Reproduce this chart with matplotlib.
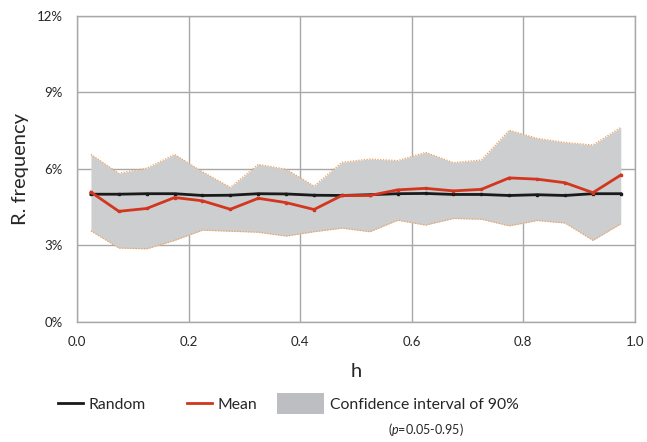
#!/usr/bin/env python3.12
"""Relative frequency per h bin: random baseline, mean and 90% confidence band."""

import matplotlib
matplotlib.use("Agg")
import matplotlib.pyplot as plt
from matplotlib.lines import Line2D
from matplotlib.patches import Patch, Rectangle
from matplotlib.legend_handler import HandlerPatch
from matplotlib.ticker import FuncFormatter

# =========================
# DATA (values in %)
# =========================
H = [0.025, 0.075, 0.125, 0.175, 0.225, 0.275, 0.325, 0.375, 0.425, 0.475,
     0.525, 0.575, 0.625, 0.675, 0.725, 0.775, 0.825, 0.875, 0.925, 0.975]

RANDOM = [5.01, 5.01, 5.03, 5.03, 4.96, 4.97, 5.03, 5.02, 4.97, 4.96,
          4.99, 5.03, 5.04, 5.00, 5.00, 4.96, 4.99, 4.96, 5.03, 5.03]

MEAN = [5.09, 4.34, 4.45, 4.88, 4.75, 4.42, 4.85, 4.68, 4.41, 4.96,
        4.96, 5.18, 5.24, 5.14, 5.20, 5.65, 5.60, 5.46, 5.07, 5.76]

CI_UPPER = [6.57, 5.83, 6.03, 6.57, 5.89, 5.28, 6.18, 5.99, 5.33, 6.26,
            6.39, 6.33, 6.65, 6.25, 6.35, 7.52, 7.20, 7.04, 6.94, 7.63]

CI_LOWER = [3.57, 2.90, 2.87, 3.20, 3.60, 3.56, 3.52, 3.37, 3.54, 3.68,
            3.54, 3.99, 3.80, 4.06, 4.03, 3.77, 3.98, 3.88, 3.20, 3.85]

X_TICKS = [0.0, 0.2, 0.4, 0.6, 0.8, 1.0]
Y_TICKS = [0, 3, 6, 9, 12]

# =========================
# STYLE
# =========================
FONT = ["Lato", "DejaVu Sans"]
GRID_COLOR = "#a8a8a8"
FILL_COLOR = "#cdcecf"
EDGE_COLOR = "#f2a25c"
RED = "#d2361f"
BLACK = "#1a1a1a"
TEXT_COLOR = "#262626"

plt.rcParams["font.family"] = FONT
plt.rcParams["mathtext.fontset"] = "custom"
plt.rcParams["mathtext.it"] = "Lato:italic"
plt.rcParams["mathtext.rm"] = "Lato"


class WidePatchHandler(HandlerPatch):
    # grey swatch is wider and taller than the line handles, growing to the left
    def create_artists(self, legend, orig_handle, xdescent, ydescent,
                       width, height, fontsize, trans):
        extra = 0.85 * width
        p = Rectangle((-xdescent - extra, -ydescent - 0.45 * height),
                      width + extra, height * 1.9,
                      facecolor=orig_handle.get_facecolor(),
                      edgecolor="none", transform=trans)
        return [p]


def main() -> None:
    fig = plt.figure(figsize=(6.47, 4.42), dpi=100)
    ax = fig.add_axes([0.119, 0.2715, 0.862, 0.6925])

    ax.fill_between(H, CI_LOWER, CI_UPPER, color=FILL_COLOR, linewidth=0, zorder=2)
    ax.plot(H, CI_UPPER, color=EDGE_COLOR, linestyle=(0, (1, 1.2)), linewidth=0.9, zorder=3)
    ax.plot(H, CI_LOWER, color=EDGE_COLOR, linestyle=(0, (1, 1.2)), linewidth=0.9, zorder=3)
    ax.plot(H, RANDOM, color=BLACK, linewidth=2.0, marker="s", markersize=2, zorder=4)
    ax.plot(H, MEAN, color=RED, linewidth=2.0, marker="s", markersize=2, zorder=5)

    ax.set_xlim(0, 1)
    ax.set_ylim(0, 12)
    ax.set_xticks(X_TICKS)
    ax.set_yticks(Y_TICKS)
    ax.xaxis.set_major_formatter(FuncFormatter(lambda v, _: f"{v:.1f}"))
    ax.yaxis.set_major_formatter(FuncFormatter(lambda v, _: f"{v:.0f}%"))
    ax.tick_params(length=0, labelsize=9.5, colors=TEXT_COLOR)
    ax.tick_params(axis="y", pad=10)
    ax.tick_params(axis="x", pad=10)
    ax.grid(True, color=GRID_COLOR, linewidth=1.0, zorder=1)
    ax.set_axisbelow(True)
    for spine in ax.spines.values():
        spine.set_color(GRID_COLOR)
        spine.set_linewidth(1.0)

    ax.set_xlabel("h", fontsize=14.5, color=TEXT_COLOR, labelpad=11)
    ax.set_ylabel("R. frequency", fontsize=14.5, color=TEXT_COLOR, labelpad=6)

    handles = [
        Line2D([], [], color=BLACK, linewidth=2.0),
        Line2D([], [], color=RED, linewidth=2.0),
        Patch(facecolor="#bdbec1"),
    ]
    labels = ["Random", "Mean", "Confidence interval of 90%"]
    fig.legend(handles, labels, loc="center left",
               bbox_to_anchor=(0.077, 0.084), ncol=3, frameon=False,
               fontsize=11.3, handlelength=1.6, handletextpad=0.38,
               columnspacing=2.6, borderpad=0, labelcolor=TEXT_COLOR,
               handler_map={Patch: WidePatchHandler()})
    fig.text(0.659, 0.028, r"($\it{p}$=0.05-0.95)", fontsize=9,
             color=TEXT_COLOR, ha="center", va="center")

    fig.savefig("out.png", dpi=100)


if __name__ == "__main__":
    main()
